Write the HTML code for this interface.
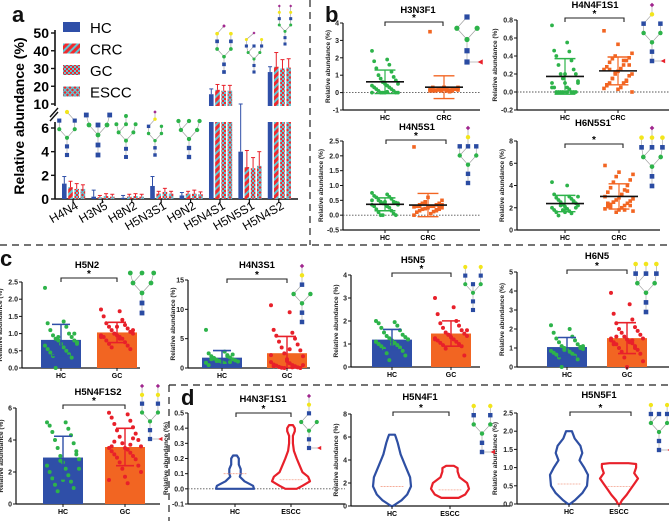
<!DOCTYPE html>
<html><head><meta charset="utf-8"><style>
html,body{margin:0;padding:0;background:#fff;}
svg{display:block;font-family:"Liberation Sans",sans-serif;}
</style></head><body>
<svg id="fig" width="669" height="521" viewBox="0 0 669 521">
<defs>
<pattern id="pCRC" width="5" height="5" patternUnits="userSpaceOnUse" patternTransform="rotate(45)"><rect width="5" height="5" fill="#ee2a2e"/><rect width="2" height="5" fill="#5fc7d6"/></pattern>
<pattern id="pGC" width="4" height="4" patternUnits="userSpaceOnUse"><rect width="4" height="4" fill="#ee2a2e"/><rect width="2" height="2" fill="#5fc7d6"/><rect x="2" y="2" width="2" height="2" fill="#5fc7d6"/></pattern>
<pattern id="pESCC" width="5" height="5" patternUnits="userSpaceOnUse"><rect width="5" height="5" fill="#ee2a2e"/><path d="M0 0L5 5M5 0L0 5" stroke="#5fc7d6" stroke-width="1.3"/></pattern>
</defs>
<g id="root"></g>
</svg>
<script>
// ---------- Panel a data ----------
const aCats = ["H4N4","H3N5","H8N2","H5N3S1","H9N2","H5N4S1","H5N5S1","H5N4S2"];
const aSeries = ["HC","CRC","GC","ESCC"];
const aHC   = [1.3,0.2,0.1,1.1,0.3,15.5,4.0,28];
const aCRC  = [1.0,0.15,0.2,0.45,0.45,18,2.7,31];
const aGC   = [0.85,0.25,0.25,0.6,0.45,17.5,2.6,30];
const aESCC = [0.85,0.2,0.2,0.45,0.4,17.5,2.8,30.5];
const aErrHC   = [0.6,0.55,0.2,0.8,0.25,3,2.4,3];
const aErrCRC  = [0.5,0.15,0.2,0.2,0.2,3,1.4,8];
const aErrGC   = [0.45,0.2,0.2,0.3,0.3,3,0.9,5];
const aErrESCC = [0.35,0.2,0.2,0.2,0.2,3,1.2,5];
const aLowTicks = [0,2,4,6];
const aHighTicks = [10,20,30,40,50];

// ---------- Panel b data ----------
const b1HC = [2.4,1.9,1.8,1.6,1.4,1.2,1.0,0.9,0.8,0.7,0.6,0.5,0.5,0.4,0.4,0.3,0.3,0.2,0.2,0.1,0.1,0,0,0,0,0,0,0.05];
const b1CRC = [3.5,0.3,0.3,0.25,0.2,0.2,0.2,0.15,0.15,0.1,0.1,0.1,0.3,0.25,0.2,0.2,0.15,0.1,0.1,0.05,0.3,0.25,0.2,0.2,0.15,0.1];
const b2HC = [0.74,0.55,0.46,0.45,0.4,0.35,0.3,0.25,0.2,0.2,0.15,0.12,0.1,0.1,0.05,0.05,0.03,0,0,0,0,0,0,0,0.1,0.2,0.05,0];
const b2CRC = [0.68,0.53,0.43,0.4,0.38,0.37,0.35,0.33,0.3,0.28,0.26,0.25,0.23,0.2,0.2,0.18,0.15,0.13,0.1,0.1,0.08,0.05,0.04,0.03,0,0.22,0.3,0.15,0.12,0.25,0.35,0.07];
const b3HC = [0.75,0.7,0.65,0.62,0.6,0.55,0.5,0.45,0.45,0.42,0.4,0.4,0.38,0.35,0.3,0.3,0.25,0.2,0.15,0.1,0.05,0,0,0,0.35,0.45,0.5];
const b3CRC = [2.3,0.6,0.5,0.45,0.4,0.4,0.35,0.35,0.3,0.3,0.3,0.28,0.25,0.25,0.22,0.2,0.2,0.18,0.15,0.12,0.1,0.05,0,0.3,0.35,0.4,0.25,0.2,0.15,0.3];
const b4HC = [4.3,4.0,3.2,3.0,2.9,2.8,2.7,2.6,2.5,2.4,2.3,2.2,2.1,2.0,1.9,1.8,1.7,1.6,1.5,1.3,2.5,2.2,2.0,1.8,3.0,1.6];
const b4CRC = [5.8,5.2,5.0,4.8,4.5,4.3,4.0,3.8,3.6,3.4,3.2,3.0,2.9,2.8,2.7,2.6,2.5,2.4,2.3,2.2,2.1,2.0,1.9,1.8,1.7,1.6,2.2,2.5,3.5,2.0,1.8,2.4];

// ---------- Panel c data ----------
const c1HC = [2.33,1.35,1.3,1.2,1.1,1.0,0.95,0.9,0.85,0.8,0.8,0.75,0.7,0.65,0.6,0.55,0.5,0.45,0.4,0.35,0.3,0,1.0,0.9,0.7];
const c1GC = [1.7,1.65,1.5,1.4,1.3,1.25,1.2,1.15,1.1,1.05,1.0,1.0,0.95,0.95,0.9,0.9,0.85,0.8,0.75,0.7,0.65,0.6,0.55,1.0,1.1,1.2,0.9,0.85];
const c2HC = [6.5,2.8,2.5,2.2,2.0,1.8,1.6,1.5,1.4,1.3,1.2,1.1,1.0,0.9,0.8,0.5,2.0,1.5,1.0,1.7,2.3,1.2];
const c2GC = [10.7,9.5,6.5,6.0,5.5,5.0,4.5,4.0,3.5,3.0,2.5,2.0,1.5,1.0,0.8,0.6,0.5,0.4,0.3,0.2,0.1,0.05,0,0,0.5,1.2,2.2,3.2,0.3,0.1];
const c3HC = [2.0,1.95,1.9,1.8,1.7,1.6,1.5,1.4,1.35,1.3,1.25,1.2,1.15,1.1,1.05,1.0,0.95,0.9,0.85,0.8,0.7,0.6,0.5,0.3,1.2,1.0,1.1];
const c3GC = [3.0,2.6,2.3,2.0,1.9,1.8,1.7,1.6,1.5,1.45,1.4,1.35,1.3,1.25,1.2,1.15,1.1,1.05,1.0,0.95,0.9,0.8,0.5,1.4,1.6,1.3,1.2];
const c4HC = [2.2,2.0,1.8,1.6,1.5,1.4,1.3,1.2,1.1,1.05,1.0,0.95,0.9,0.85,0.8,0.75,0.7,0.65,0.6,0.5,0.4,0,1.0,0.9,1.1];
const c4GC = [3.9,3.3,2.8,2.5,2.3,2.1,2.0,1.9,1.8,1.7,1.6,1.5,1.45,1.4,1.35,1.3,1.25,1.2,1.1,1.0,0.9,0.8,0.7,0.5,0.3,0,1.5,1.3,1.2,1.4,1.6,1.0];
const c5HC = [5.1,5.1,4.9,4.7,4.5,4.3,4.0,3.8,3.5,3.3,3.0,2.8,2.6,2.4,2.2,2.0,1.8,1.6,1.4,1.2,1.0,0.8,3.1,2.7,2.2,1.5];
const c5GC = [5.7,5.6,5.4,5.2,5.0,4.8,4.6,4.4,4.2,4.0,3.8,3.6,3.5,3.5,3.4,3.3,3.2,3.1,3.0,2.9,2.8,2.6,2.4,2.2,2.0,1.7,1.5,1.3,3.6,3.7,3.9,4.1];

// ---------- Panel d data (violin density profiles) ----------
const d1HCLevels = [0,0.02,0.05,0.08,0.1,0.13,0.16,0.2,0.22];
const d1HCDens   = [1,0.95,0.5,0.25,0.3,0.3,0.2,0.2,0.1];
const d1ESLevels = [0,0.02,0.05,0.08,0.11,0.14,0.17,0.2,0.25,0.3,0.35,0.38,0.4,0.42];
const d1ESDens   = [0.3,0.6,1,0.9,0.6,0.5,0.4,0.3,0.15,0.1,0.1,0.2,0.2,0.1];
const d2HCLevels = [0,0.5,1,1.7,2.5,3.5,4.5,5.5,6.0,6.2];
const d2HCDens   = [0.05,0.5,0.8,1,0.95,0.7,0.45,0.3,0.2,0.15];
const d2ESLevels = [0.7,1,1.5,2,2.5,3,3.3,3.5];
const d2ESDens   = [0.45,0.8,1,0.9,0.5,0.4,0.4,0.2];
const d3HCLevels = [0,0.1,0.3,0.5,0.8,1.0,1.2,1.4,1.6,1.8,2.0];
const d3HCDens   = [0.05,0.3,0.7,0.95,1,0.8,0.55,0.7,0.6,0.3,0.15];
const d3ESLevels = [0,0.1,0.25,0.4,0.55,0.7,0.85,1.0,1.1,1.12];
const d3ESDens   = [0.05,0.15,0.4,0.6,0.8,1,0.8,0.9,0.9,0.5];
const dMedians = [[0.1,0.06],[1.7,1.4],[0.55,0.48]];

const NS="http://www.w3.org/2000/svg";
const root=document.getElementById('root');
function el(tag,attrs,parent,text){
  const e=document.createElementNS(NS,tag);
  for(const k in attrs) e.setAttribute(k,attrs[k]);
  if(text!==undefined) e.textContent=text;
  (parent||root).appendChild(e);
  return e;
}
const GREEN="#2db34a",ORANGE="#f26522",RED="#e8202a",BLUE="#2f4fa8",YEL="#f2e51c",PURP="#a0268e";

function mean(a){return a.reduce((s,v)=>s+v,0)/a.length;}
function sd(a){const m=mean(a);return Math.sqrt(a.reduce((s,v)=>s+(v-m)*(v-m),0)/(a.length-1));}

let dv;
dv=el('line',{x1:310,y1:0,x2:310,y2:245,stroke:'#222','stroke-width':1.2,'stroke-dasharray':'7,5'});

dv=el('line',{x1:0,y1:245,x2:669,y2:245,stroke:'#222','stroke-width':1.2,'stroke-dasharray':'7,5'});

dv=el('line',{x1:169,y1:385,x2:669,y2:385,stroke:'#222','stroke-width':1.2,'stroke-dasharray':'7,5'});

dv=el('line',{x1:169,y1:385,x2:169,y2:521,stroke:'#222','stroke-width':1.2,'stroke-dasharray':'7,5'});


function panelLabel(t,x,y){
  const e=el('text',{x:x,y:y,'font-size':22,'font-weight':'bold',fill:'#111'},root,t);
  
}
panelLabel('a',12,22);panelLabel('b',325,22);panelLabel('c',0,266);panelLabel('d',181,405);

function glycan(name,cx,top,bottom,rows){
  const g=el('g',{});
  
  
  const u=(bottom-top)/(rows.length-1);
  const ux=u*0.9, r=Math.min(u*0.24,2.6);
  const pos=rows.map((row,ri)=>row.map(n=>({x:cx+n[0]*ux,y:top+ri*u,t:n[1]})));
  for(let ri=0;ri<pos.length;ri++){
    pos[ri].forEach((p,i)=>{
      let q=null;
      if(ri<pos.length-1){
        let best=1e9;pos[ri+1].forEach(c=>{const d=Math.abs(c.x-p.x);if(d<best&&c.t!=='F'){best=d;q=c;}});
      } else if(i>0){q=pos[ri][0];}
      if(q) el('line',{x1:p.x,y1:p.y,x2:q.x,y2:q.y,stroke:'#999','stroke-width':0.6},g);
    });
  }
  pos.forEach(row=>row.forEach(p=>{
    if(p.t==='N') el('rect',{x:p.x-r,y:p.y-r,width:2*r,height:2*r,fill:'#2a4ba2'},g);
    else if(p.t==='S') el('path',{d:`M${p.x} ${p.y-r}L${p.x+r} ${p.y}L${p.x} ${p.y+r}L${p.x-r} ${p.y}Z`,fill:PURP},g);
    else if(p.t==='F') el('path',{d:`M${p.x-r} ${p.y}L${p.x+r} ${p.y-r}L${p.x+r} ${p.y+r}Z`,fill:RED},g);
    else el('circle',{cx:p.x,cy:p.y,r:r,fill:p.t==='G'?YEL:GREEN},g);
  }));
}
const STEM=[[[0,'M']],[[0,'N']],[[0,'N']]];
const STEMF=[[[0,'M']],[[0,'N']],[[0,'N'],[1.3,'F']]];
const BIMAN=[[-1,'M'],[1,'M']];

// ---------- Panel a ----------
(function(){
  const x0=55,xEnd=298;
  const yLow=v=>199-v*(71/6);
  const yHigh=v=>104-(v-10)*(71/40);
  el('line',{x1:x0,y1:106,x2:x0,y2:30,stroke:'#111','stroke-width':1.6});
  el('line',{x1:x0,y1:122,x2:x0,y2:199,stroke:'#111','stroke-width':1.6});
  el('line',{x1:x0-5,y1:121,x2:x0+3,y2:112,stroke:'#111','stroke-width':1.4});
  el('line',{x1:x0-5,y1:117,x2:x0+3,y2:108,stroke:'#111','stroke-width':1.4});
  aLowTicks.forEach(t=>{const y=yLow(t);
    el('line',{x1:x0-4,y1:y,x2:x0,y2:y,stroke:'#111','stroke-width':1.4});
    const e=el('text',{x:x0-6,y:y+5,'font-size':14,'font-weight':'bold','text-anchor':'end'},root,t);
    });
  aHighTicks.forEach(t=>{const y=yHigh(t);
    el('line',{x1:x0-4,y1:y,x2:x0,y2:y,stroke:'#111','stroke-width':1.4});
    const e=el('text',{x:x0-6,y:y+5,'font-size':14,'font-weight':'bold','text-anchor':'end'},root,t);
    });
  const yt=el('text',{x:0,y:0,'font-size':14,'font-weight':'bold','text-anchor':'middle',transform:'translate(24,116) rotate(-90)'},root,'Relative abundance (%)');
  
  el('line',{x1:x0,y1:199,x2:xEnd,y2:199,stroke:'#111','stroke-width':1.6});
  const series=[aHC,aCRC,aGC,aESCC],errs=[aErrHC,aErrCRC,aErrGC,aErrESCC];
  const fills=[BLUE,'url(#pCRC)','url(#pGC)','url(#pESCC)'];
  const ecol=[BLUE,RED,RED,RED];
  const step=(xEnd-x0-24)/(aCats.length-1+0.45);
  aCats.forEach((c,i)=>{
    const gc=x0+14+step*i;
    el('line',{x1:gc+4,y1:199,x2:gc+4,y2:203,stroke:'#111','stroke-width':1.2});
    const lab=el('text',{x:0,y:0,'font-size':12,'text-anchor':'end',transform:`translate(${gc+10},208) rotate(-30)`},root,c);
    
    series.forEach((s,k)=>{
      const v=s[i],bx=gc-7+k*6.2,w=4.6;
      const top=v<=6?yLow(v):yHigh(v);
      let b;
      if(v<=6){ b=el('rect',{x:bx,y:top,width:w,height:199-top,fill:fills[k]}); }
      else { b=el('rect',{x:bx,y:122,width:w,height:77,fill:fills[k]});
             const b2=el('rect',{x:bx,y:top,width:w,height:106-top,fill:fills[k]});
              }
      
      const ve=v+errs[k][i];
      const ye=ve<=6?yLow(ve):(ve<10?104:yHigh(ve));
      el('line',{x1:bx+w/2,y1:top,x2:bx+w/2,y2:ye,stroke:ecol[k],'stroke-width':1});
      el('line',{x1:bx+0.3,y1:ye,x2:bx+w-0.3,y2:ye,stroke:ecol[k],'stroke-width':1});
    });
  });
  aSeries.forEach((s,k)=>{
    const y=22+k*21.5;
    const r=el('rect',{x:63,y:y,width:17,height:10,fill:[BLUE,'url(#pCRC)','url(#pGC)','url(#pESCC)'][k]});
    
    const t=el('text',{x:90,y:y+11,'font-size':15},root,s);
    
  });
  glycan('H4N4',67,112,155,[[[0,'G']],[[-1,'N'],[1,'N']],[[-1,'M'],[1,'M']]].concat(STEM));
  glycan('H3N5',98,115,155,[[[-1.3,'N'],[1.3,'N']],[[-1,'M'],[0,'N'],[1,'M']]].concat(STEM));
  glycan('H8N2',126,116,157,[[[0,'M']],[[-1.3,'M'],[0,'M'],[1.3,'M']],[[-1,'M'],[1,'M']]].concat(STEM));
  glycan('H5N3S1',155,112,155,[[[0,'S']],[[0,'G']],[[-1,'N'],[1,'M']],BIMAN].concat(STEM));
  glycan('H9N2',189,121,157,[[[-1.3,'M'],[0,'M'],[1.3,'M']],[[-1,'M'],[1,'M']]].concat(STEM));
  glycan('H5N4S1',224,26,72,[[[0,'S']],[[-1,'G'],[1,'G']],[[-1,'N'],[1,'N']],BIMAN].concat(STEM));
  glycan('H5N5S1',254,33,72,[[[0,'S']],[[-1.3,'G'],[1.3,'G']],[[-1.3,'N'],[0,'N'],[1.3,'N']],BIMAN].concat(STEM));
  glycan('H5N4S2',285,6,44,[[[-1,'S'],[1,'S']],[[-1,'G'],[1,'G']],[[-1,'N'],[1,'N']],BIMAN].concat(STEM));
})();

function yAxis(id,x,yTop,yBot,min,max,ticks,dec,xEnd,fs){
  const sc=v=>yBot-(v-min)/(max-min)*(yBot-yTop);
  el('line',{x1:x,y1:yTop,x2:x,y2:yBot,stroke:'#111','stroke-width':1.2});
  el('line',{x1:x,y1:yBot,x2:xEnd,y2:yBot,stroke:'#111','stroke-width':1.2});
  ticks.forEach(t=>{const y=sc(t);
    el('line',{x1:x-3,y1:y,x2:x,y2:y,stroke:'#111','stroke-width':1});
    const e=el('text',{x:x-4,y:y+2.5,'font-size':fs||7,'font-weight':'bold','text-anchor':'end',fill:'#222'},root,t.toFixed(dec));
    });
  const lab=el('text',{x:0,y:0,'font-size':6.5,'font-weight':'bold','text-anchor':'middle',fill:'#222',transform:`translate(${x-(dec>0?20:13)},${(yTop+yBot)/2}) rotate(-90)`},root,'Relative abundance (%)');
  
  return sc;
}
function title(id,t,x,y,fs){const e=el('text',{x:x,y:y,'font-size':fs||9.5,'font-weight':'bold','text-anchor':'middle'},root,t);
  }
function bracket(id,x1,x2,y){
  const g=el('g',{});
  el('path',{d:`M${x1} ${y+4}V${y}H${x2}V${y+4}`,stroke:'#222',fill:'none','stroke-width':1.1},g);
  el('text',{x:(x1+x2)/2,y:y-1,'font-size':10,'font-weight':'bold','text-anchor':'middle'},g,'*');
}
function xLabel(id,t,x,yBot){el('line',{x1:x,y1:yBot,x2:x,y2:yBot+3,stroke:'#111','stroke-width':1});
  const e=el('text',{x:x,y:yBot+10,'font-size':7,'font-weight':'bold','text-anchor':'middle'},root,t);
  }
function dots(id,arr,cx,sc,color,spread,r){
  arr.forEach((v,i)=>{const off=(((i*7)%13)-6)/6*spread;
    const c=el('circle',{cx:cx+off,cy:sc(v),r:r||1.9,fill:color});
    });
}
function dotsSq(id,arr,cx,sc,color,spread){
  arr.forEach((v,i)=>{const off=(((i*5)%11)-5)/5*spread;
    const c=el('rect',{x:cx+off-1.8,y:sc(v)-1.8,width:3.6,height:3.6,fill:color});
    });
}
function meanSD(id,arr,cx,sc,color,half){
  const m=mean(arr),s=sd(arr);
  el('line',{x1:cx,y1:sc(m-s),x2:cx,y2:sc(m+s),stroke:color,'stroke-width':1.2});
  el('line',{x1:cx-half*0.55,y1:sc(m+s),x2:cx+half*0.55,y2:sc(m+s),stroke:color,'stroke-width':1.4});
  el('line',{x1:cx-half*0.55,y1:sc(m-s),x2:cx+half*0.55,y2:sc(m-s),stroke:color,'stroke-width':1.4});
  const l=el('line',{x1:cx-half,y1:sc(m),x2:cx+half,y2:sc(m),stroke:'#111','stroke-width':1.6});
  
}

function scatterPanel(id,t,ax,yTop,yBot,min,max,ticks,dec,xEnd,hcX,crcX,hc,crc,titleXY,br){
  const sc=yAxis(id,ax,yTop,yBot,min,max,ticks,dec,xEnd);
  if(min<0) el('line',{x1:ax,y1:sc(0),x2:xEnd,y2:sc(0),stroke:'#555','stroke-width':0.9,'stroke-dasharray':'1.5,1.5'});
  title(id,t,titleXY[0],titleXY[1]);
  bracket(id,br[0],br[1],br[2]);
  xLabel(id,'HC',hcX,yBot);xLabel(id,'CRC',crcX,yBot);
  dots(id+'-HC',hc,hcX,sc,GREEN,13,1.9);
  dotsSq(id+'-CRC',crc,crcX,sc,ORANGE,14);
  meanSD(id+'-HC',hc,hcX,sc,GREEN,19);
  meanSD(id+'-CRC',crc,crcX,sc,ORANGE,19);
}
scatterPanel('b1','H3N3F1',343,23,110,-1,4,[-1,0,1,2,3,4],0,480,385,444,b1HC,b1CRC,[418,13],[385,443,22]);
scatterPanel('b2','H4N4F1S1',517,20,110,-0.2,0.8,[-0.2,0,0.2,0.4,0.6,0.8],1,669,565,618,b2HC,b2CRC,[595,8],[565,624,18]);
scatterPanel('b3','H4N5S1',343,141,230,-0.5,2.5,[-0.5,0,0.5,1,1.5,2,2.5],1,480,385,428,b3HC,b3CRC,[417,130],[386,446,140]);
scatterPanel('b4','H6N5S1',517,141,230,0,8,[0,2,4,6,8],0,660,565,619,b4HC,b4CRC,[593,126],[565,623,144]);
glycan('H3N3F1',467,17,62,[[[0,'N']],BIMAN,[[0,'M']],[[0,'N']],[[0,'N'],[1.3,'F']]]);
glycan('H4N4F1S1',652,5,61,[[[0,'S']],[[0,'G']],[[-1,'N'],[1,'N']],BIMAN].concat(STEMF));
glycan('H4N5S1',468,128,183,[[[0,'S']],[[0,'G']],[[-1,'N'],[0,'N'],[1,'N']],BIMAN].concat(STEM));
glycan('H6N5S1',652,128,186,[[[0,'S']],[[-1.2,'G'],[0,'G'],[1.2,'G']],[[-1.2,'N'],[0,'N'],[1.2,'N']],BIMAN].concat(STEM));

function barPanel(id,t,ax,yTop,yBot,max,ticks,dec,xEnd,hcX,gcX,hc,gc,titleXY,br,dotGC){
  const sc=yAxis(id,ax,yTop,yBot,0,max,ticks,dec,xEnd);
  title(id,t,titleXY[0],titleXY[1]);
  bracket(id,br[0],br[1],br[2]);
  [[hc,hcX,BLUE,'HC'],[gc,gcX,ORANGE,'GC']].forEach(([arr,cx,col,n])=>{
    const m=mean(arr);
    const b=el('rect',{x:cx-20,y:sc(m),width:40,height:yBot-sc(m),fill:col});
    
  });
  dots(id+'-HC',hc,hcX,sc,GREEN,16,2);
  dots(id+'-GC',gc,gcX,sc,dotGC||RED,16,2);
  [[hc,hcX,BLUE],[gc,gcX,RED]].forEach(([arr,cx,col])=>{
    const m=mean(arr),s=sd(arr);
    el('line',{x1:cx,y1:sc(Math.max(0,m-s)),x2:cx,y2:sc(m+s),stroke:col,'stroke-width':1.4});
    el('line',{x1:cx-9,y1:sc(m+s),x2:cx+9,y2:sc(m+s),stroke:col,'stroke-width':1.6});
    el('line',{x1:cx-9,y1:sc(Math.max(0,m-s)),x2:cx+9,y2:sc(Math.max(0,m-s)),stroke:col,'stroke-width':1.6});
  });
  xLabel(id,'HC',hcX,yBot);xLabel(id,'GC',gcX,yBot);
}
barPanel('c1','H5N2',22,282,368,2.5,[0,0.5,1,1.5,2,2.5],1,140,61,117,c1HC,c1GC,[87,268],[61,117,278]);
barPanel('c2','H4N3S1',188,280,368,15,[0,5,10,15],0,310,222,287,c2HC,c2GC,[257,268],[227,287,279]);
barPanel('c3','H5N5',351,275,367,4,[0,1,2,3,4],0,480,392,451,c3HC,c3GC,[413,263],[392,451,273]);
barPanel('c4','H6N5',517,272,367,5,[0,1,2,3,4,5],0,669,567,627,c4HC,c4GC,[597,259],[567,627,270]);
barPanel('c5','H5N4F1S2',16,408,504,6,[0,2,4,6],0,160,63,125,c5HC,c5GC,[98,395],[63,125,405]);
glycan('H5N2',142,273,313,[[[-1.3,'M'],[0,'M'],[1.3,'M']],BIMAN].concat(STEM));
glycan('H4N3S1',302,266,322,[[[0,'S']],[[0,'G']],[[0,'N']],BIMAN].concat(STEM));
glycan('H5N5',473,267,310,[[[-1,'G'],[1,'G']],[[-1,'N'],[1,'N']],[[-1,'M'],[0,'N'],[1,'M']]].concat(STEM));
glycan('H6N5',646,264,312,[[[-1.2,'G'],[0,'G'],[1.2,'G']],[[-1.2,'N'],[0,'N'],[1.2,'N']],BIMAN].concat(STEM));
glycan('H5N4F1S2',150,386,439,[[[-1,'S'],[1,'S']],[[-1,'G'],[1,'G']],[[-1,'N'],[1,'N']],BIMAN].concat(STEMF));

function violin(id,cx,sc,levels,dens,half,color,med){
  let L='',R='';
  levels.forEach((v,i)=>{const y=sc(v),w=dens[i]*half;
    L+=(i?'L':'M')+(cx-w).toFixed(1)+' '+y.toFixed(1);
  });
  for(let i=levels.length-1;i>=0;i--){R+='L'+(cx+dens[i]*half).toFixed(1)+' '+sc(levels[i]).toFixed(1);}
  const p=el('path',{d:L+R+'Z',fill:'none',stroke:color,'stroke-width':2.2,'stroke-linejoin':'round'});
  
  el('line',{x1:cx-half*0.6,y1:sc(med),x2:cx+half*0.6,y2:sc(med),stroke:color==BLUE?'#7fd08f':'#f4a08a','stroke-width':0.8,'stroke-dasharray':'2,1'});
}
function violinPanel(id,t,ax,yTop,yBot,min,max,ticks,dec,xEnd,hcX,esX,hcL,hcD,esL,esD,med,titleXY,br){
  const sc=yAxis(id,ax,yTop,yBot,min,max,ticks,dec,xEnd);
  if(min<0) el('line',{x1:ax,y1:sc(0),x2:xEnd,y2:sc(0),stroke:'#555','stroke-width':0.9,'stroke-dasharray':'1.5,1.5'});
  title(id,t,titleXY[0],titleXY[1]);
  bracket(id,br[0],br[1],br[2]);
  violin(id+'-HC',hcX,sc,hcL,hcD,19,'#2e4fa3',med[0]);
  violin(id+'-ESCC',esX,sc,esL,esD,19,RED,med[1]);
  xLabel(id,'HC',hcX,yBot);xLabel(id,'ESCC',esX,yBot);
}
violinPanel('d1','H4N3F1S1',188,413,504,-0.1,0.5,[-0.1,0,0.1,0.2,0.3,0.4,0.5],1,345,235,291,d1HCLevels,d1HCDens,d1ESLevels,d1ESDens,dMedians[0],[263,402],[236,291,413]);
violinPanel('d2','H5N4F1',351,414,506,0,8,[0,2,4,6,8],0,510,392,450,d2HCLevels,d2HCDens,d2ESLevels,d2ESDens,dMedians[1],[420,400],[393,449,412]);
violinPanel('d3','H5N5F1',517,413,504,0,2.5,[0,0.5,1,1.5,2,2.5],1,669,569,619,d3HCLevels,d3HCDens,d3ESLevels,d3ESDens,dMedians[2],[599,398],[570,631,412]);
glycan('H4N3F1S1',309,396,448,[[[0,'S']],[[0,'G']],[[0,'N']],BIMAN].concat(STEMF));
glycan('H5N4F1',482,406,452,[[[-1,'G'],[1,'G']],[[-1,'N'],[1,'N']],BIMAN].concat(STEMF));
glycan('H5N5F1',659,405,450,[[[-1,'G'],[1,'G']],[[-1,'N'],[0,'N'],[1,'N']],BIMAN].concat(STEMF));
</script>
</body></html>
